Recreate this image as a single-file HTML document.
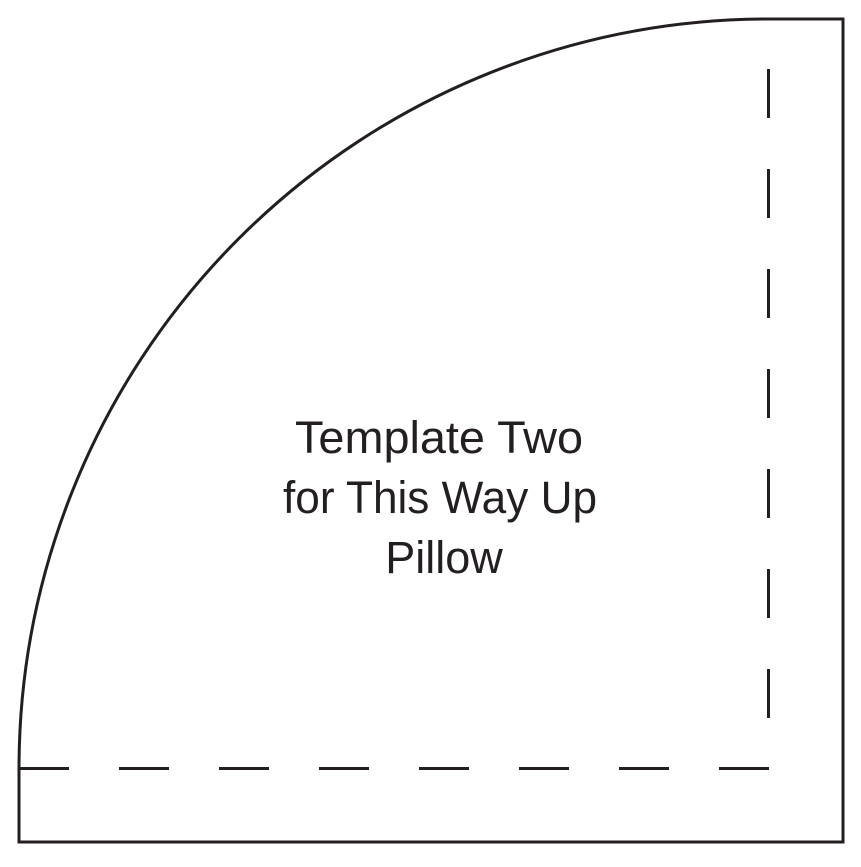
<!DOCTYPE html>
<html><head><style>html,body{margin:0;padding:0;background:#fff;}</style></head>
<body>
<svg width="861" height="862" viewBox="0 0 861 862" xmlns="http://www.w3.org/2000/svg">
<g fill="none" stroke="#231f20" stroke-width="3">
<path d="M19,768 L19,842 L843,842 L843,19 L769,19 A750,750 0 0 0 19,768 Z"/>
<line x1="19" y1="768.5" x2="769" y2="768.5" stroke-dasharray="50,50"/>
<line x1="768.5" y1="69" x2="768.5" y2="719" stroke-dasharray="49,51"/>
</g>
<g font-family="Liberation Sans, sans-serif" font-size="45" fill="#231f20" text-anchor="middle">
<text x="439" y="453" textLength="288" lengthAdjust="spacingAndGlyphs">Template Two</text>
<text x="440" y="513" textLength="314" lengthAdjust="spacingAndGlyphs">for This Way Up</text>
<text x="444" y="573">Pillow</text>
</g>
</svg>
</body></html>
